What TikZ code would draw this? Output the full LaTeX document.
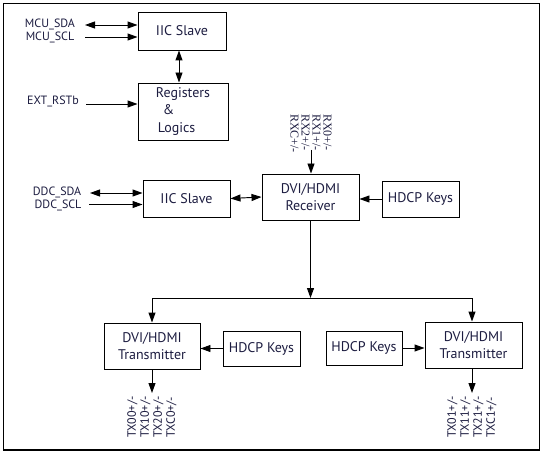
\documentclass[tikz,border=0pt]{standalone}
\usepackage{fontspec}
\setmainfont{PT Sans}
\newfontfamily\rxfont{Liberation Serif}
\usetikzlibrary{arrows.meta}
\definecolor{txt}{RGB}{28,28,64}
\begin{document}
\begin{tikzpicture}[x=1pt,y=-1pt,
  box/.style={draw, line width=0.95pt, inner sep=0pt, text=txt, font=\fontsize{14}{17.5}\selectfont, align=center},
  lab/.style={text=txt, font=\fontsize{12}{13}\selectfont, inner sep=0pt},
  sig/.style={text=txt, inner sep=0pt, align=left},
  conn/.style={line width=0.95pt, -{Triangle[length=10pt,width=7pt]}},
  dconn/.style={line width=0.95pt, {Triangle[length=10pt,width=7pt]}-{Triangle[length=10pt,width=7pt]}},
  plain/.style={line width=0.95pt},
]
\useasboundingbox (0,0) rectangle (545,454);
\draw[line width=1.4pt] (3.5,3.5) rectangle (539.5,450);

% boxes
\node[box, minimum width=88pt, minimum height=38pt] (iic1) at (182,31) {IIC Slave};
\node[box, minimum width=90pt, minimum height=57pt, align=left] (reg) at (183,111.5) {Registers\\\hspace{7pt}\&\\\hspace{2pt}Logics};
\node[box, minimum width=87pt, minimum height=37pt] (iic2) at (186.5,198.5) {IIC Slave};
\node[box, minimum width=97pt, minimum height=46pt] (rx) at (310.5,197) {DVI/HDMI\\Receiver};
\node[box, minimum width=77pt, minimum height=36pt] (hk0) at (420.5,199) {HDCP Keys};
\node[box, minimum width=96pt, minimum height=46pt] (tx0) at (152,346) {DVI/HDMI\\Transmitter};
\node[box, minimum width=77pt, minimum height=35pt] (hk1) at (261.5,348.5) {HDCP Keys};
\node[box, minimum width=76pt, minimum height=34pt] (hk2) at (364,348) {HDCP Keys};
\node[box, minimum width=97pt, minimum height=46pt] (tx1) at (473.5,345) {DVI/HDMI\\Transmitter};

% side labels
\node[lab] (mcusda) at (50,24) {MCU\_SDA};
\node[lab] (mcuscl) at (50,37) {MCU\_SCL};
\node[lab] (extrst) at (53,101) {EXT\_RSTb};
\node[lab] (ddcsda) at (57,192) {DDC\_SDA};
\node[lab] (ddcscl) at (58,205) {DDC\_SCL};

\coordinate (a1) at (85,25);
\coordinate (a2) at (85,37);
\coordinate (a3) at (86,104);
\coordinate (a4) at (90,193);
\coordinate (a5) at (89,204.5);
\draw[dconn] (a1) -- (a1 -| iic1.west);
\draw[conn] (a2) -- (a2 -| iic1.west);
\draw[conn] (a3) -- (a3 -| reg.west);
\draw[dconn] (a4) -- (a4 -| iic2.west);
\draw[conn] (a5) -- (a5 -| iic2.west);

\draw[dconn] (iic1.south -| 179,0) -- (reg.north -| 179,0);
\draw[dconn] (iic2.east) -- (rx.west);
\draw[conn] (hk0.west) -- (hk0.west -| rx.east);

% RX inputs
\node[sig, rotate=-90, anchor=west, font=\rxfont\fontsize{12}{11}\selectfont] (rxl) at (311,114) {RX0+/-\\RX1+/-\\RX2+/-\\RXC+/-};
\coordinate (rxin) at (311,150);
\draw[conn] (rxin) -- (rxin |- rx.north);

% bus
\coordinate (busL) at (152,298);
\coordinate (busR) at (472,298);
\coordinate (busM) at (rx.south |- busL);
\draw[conn] (rx.south) -- (busM);
\draw[plain] (busL) -- (busR);
\draw[conn] (busL) -- (busL |- tx0.north);
\draw[conn] (busR) -- (busR |- tx1.north);

\draw[conn] (hk1.west) -- (hk1.west -| tx0.east);
\draw[conn] (hk2.east) -- (hk2.east -| tx1.west);

% TX outputs
\coordinate (t0) at (152,393);
\coordinate (t1) at (472,393);
\draw[conn] (tx0.south -| t0) -- (t0);
\draw[conn] (tx1.south -| t1) -- (t1);
\node[sig, rotate=90, anchor=west, font=\fontsize{12}{13}\selectfont] (tx0l) at (152,438) {TX00+/-\\TX10+/-\\TX20+/-\\TXC0+/-};
\node[sig, rotate=90, anchor=west, font=\fontsize{12}{13}\selectfont] (tx1l) at (472,438) {TX01+/-\\TX11+/-\\TX21+/-\\TXC1+/-};
\end{tikzpicture}
\end{document}
